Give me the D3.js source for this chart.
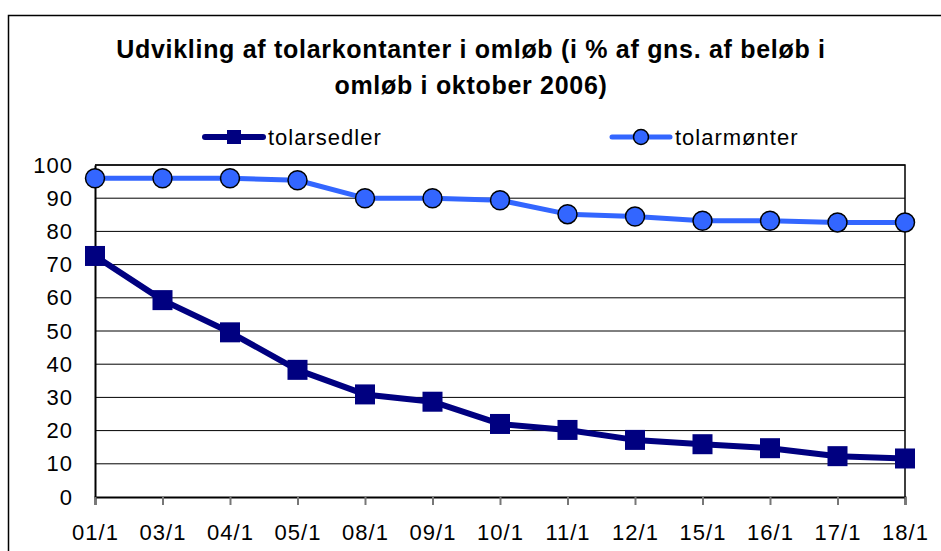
<!DOCTYPE html>
<html>
<head>
<meta charset="utf-8">
<script src="https://cdn.jsdelivr.net/npm/d3@7"></script>
<style>
  body { margin: 0; background: #fff; }
  svg { display: block; font-family: "Liberation Sans", Arial, sans-serif; }
</style>
</head>
<body>
<svg id="chart" width="941" height="551"></svg>
<script>
var categories = ["01/1", "03/1", "04/1", "05/1", "08/1", "09/1", "10/1", "11/1", "12/1", "15/1", "16/1", "17/1", "18/1"];
var sedler = [72.6, 59.3, 49.6, 38.3, 30.9, 28.7, 22, 20.2, 17.2, 15.9, 14.7, 12.3, 11.6];
var monter = [96, 96, 96, 95.4, 90, 90, 89.4, 85.2, 84.5, 83.2, 83.2, 82.7, 82.7];
var yTicks = [0, 10, 20, 30, 40, 50, 60, 70, 80, 90, 100];
var titleLines = ["Udvikling af tolarkontanter i omløb (i % af gns. af beløb i", "omløb i oktober 2006)"];
var seriesNames = ["tolarsedler", "tolarmønter"];

var svg = d3.select("#chart");
var plotLeft = 95, plotRight = 905, plotTop = 165, plotBottom = 497;

var x = d3.scalePoint().domain(categories).range([plotLeft, plotRight]);
var y = d3.scaleLinear().domain([0, 100]).range([plotBottom, plotTop]);

// outer frame
svg.append("rect")
  .attr("x", 8.5).attr("y", 15.5).attr("width", 960).attr("height", 560)
  .attr("fill", "none").attr("stroke", "#000").attr("stroke-width", 1.5);

// title
svg.append("g").selectAll("text")
  .data(titleLines)
  .enter().append("text")
    .attr("x", 471)
    .attr("y", (d, i) => 58 + i * 36)
    .attr("text-anchor", "middle")
    .attr("font-weight", "bold")
    .attr("font-size", 25)
    .style("letter-spacing", "0.7px")
    .text(d => d);

// gridlines
svg.append("g").selectAll("line")
  .data(yTicks.filter(d => d > 0))
  .enter().append("line")
    .attr("x1", plotLeft).attr("x2", plotRight)
    .attr("y1", d => y(d)).attr("y2", d => y(d))
    .attr("stroke", "#000").attr("stroke-width", 1);

// plot border top/right
svg.append("path")
  .attr("d", "M" + plotLeft + "," + plotTop + "H" + plotRight + "V" + plotBottom)
  .attr("fill", "none").attr("stroke", "#000").attr("stroke-width", 1.5);

// y axis
var yAxis = svg.append("g")
  .attr("transform", "translate(" + plotLeft + ",0)")
  .call(d3.axisLeft(y).tickValues(yTicks).tickSize(0).tickPadding(22));
yAxis.select(".domain").attr("stroke", "#000").attr("stroke-width", 2);
yAxis.selectAll("text").attr("font-size", 22).attr("fill", "#000")
  .attr("font-family", "Liberation Sans, Arial, sans-serif").style("letter-spacing", "1px");

// x axis
var xAxis = svg.append("g")
  .attr("transform", "translate(0," + plotBottom + ")")
  .call(d3.axisBottom(x).tickSizeOuter(0).tickSize(8).tickPadding(19));
xAxis.select(".domain").attr("stroke", "#000").attr("stroke-width", 2);
xAxis.selectAll(".tick line").attr("stroke", "#777").attr("stroke-width", 2);
xAxis.selectAll("text").attr("font-size", 22).attr("fill", "#000")
  .attr("font-family", "Liberation Sans, Arial, sans-serif").style("letter-spacing", "1px");

var line = d3.line().x((d, i) => x(categories[i])).y(d => y(d));

// tolarmønter
svg.append("path").datum(monter)
  .attr("d", line).attr("fill", "none")
  .attr("stroke", "#3366FF").attr("stroke-width", 5).attr("stroke-linejoin", "round");
svg.append("g").selectAll("circle")
  .data(monter)
  .enter().append("circle")
    .attr("cx", (d, i) => x(categories[i]))
    .attr("cy", d => y(d))
    .attr("r", 9.5)
    .attr("fill", "#3366FF").attr("stroke", "#000").attr("stroke-width", 1.5);

// tolarsedler
svg.append("path").datum(sedler)
  .attr("d", line).attr("fill", "none")
  .attr("stroke", "#000080").attr("stroke-width", 6).attr("stroke-linejoin", "round");
svg.append("g").selectAll("rect")
  .data(sedler)
  .enter().append("rect")
    .attr("x", (d, i) => x(categories[i]) - 10)
    .attr("y", d => y(d) - 10)
    .attr("width", 20).attr("height", 20)
    .attr("fill", "#000080");

// legend
var legend = svg.append("g");
var lg1 = legend.append("g").attr("transform", "translate(205,137)");
lg1.append("line").attr("x1", 0).attr("x2", 58)
  .attr("stroke", "#000080").attr("stroke-width", 6).attr("stroke-linecap", "round");
lg1.append("rect").attr("x", 22).attr("y", -7).attr("width", 14).attr("height", 14).attr("fill", "#000080");
lg1.append("text").attr("x", 63).attr("dy", "0.35em").attr("font-size", 22)
  .style("letter-spacing", "1px").text(seriesNames[0]);

var lg2 = legend.append("g").attr("transform", "translate(612,137)");
lg2.append("line").attr("x1", 0).attr("x2", 58)
  .attr("stroke", "#3366FF").attr("stroke-width", 5).attr("stroke-linecap", "round");
lg2.append("circle").attr("cx", 29).attr("r", 7.5)
  .attr("fill", "#3366FF").attr("stroke", "#000").attr("stroke-width", 1.5);
lg2.append("text").attr("x", 63).attr("dy", "0.35em").attr("font-size", 22)
  .style("letter-spacing", "1px").text(seriesNames[1]);
</script>
</body>
</html>
